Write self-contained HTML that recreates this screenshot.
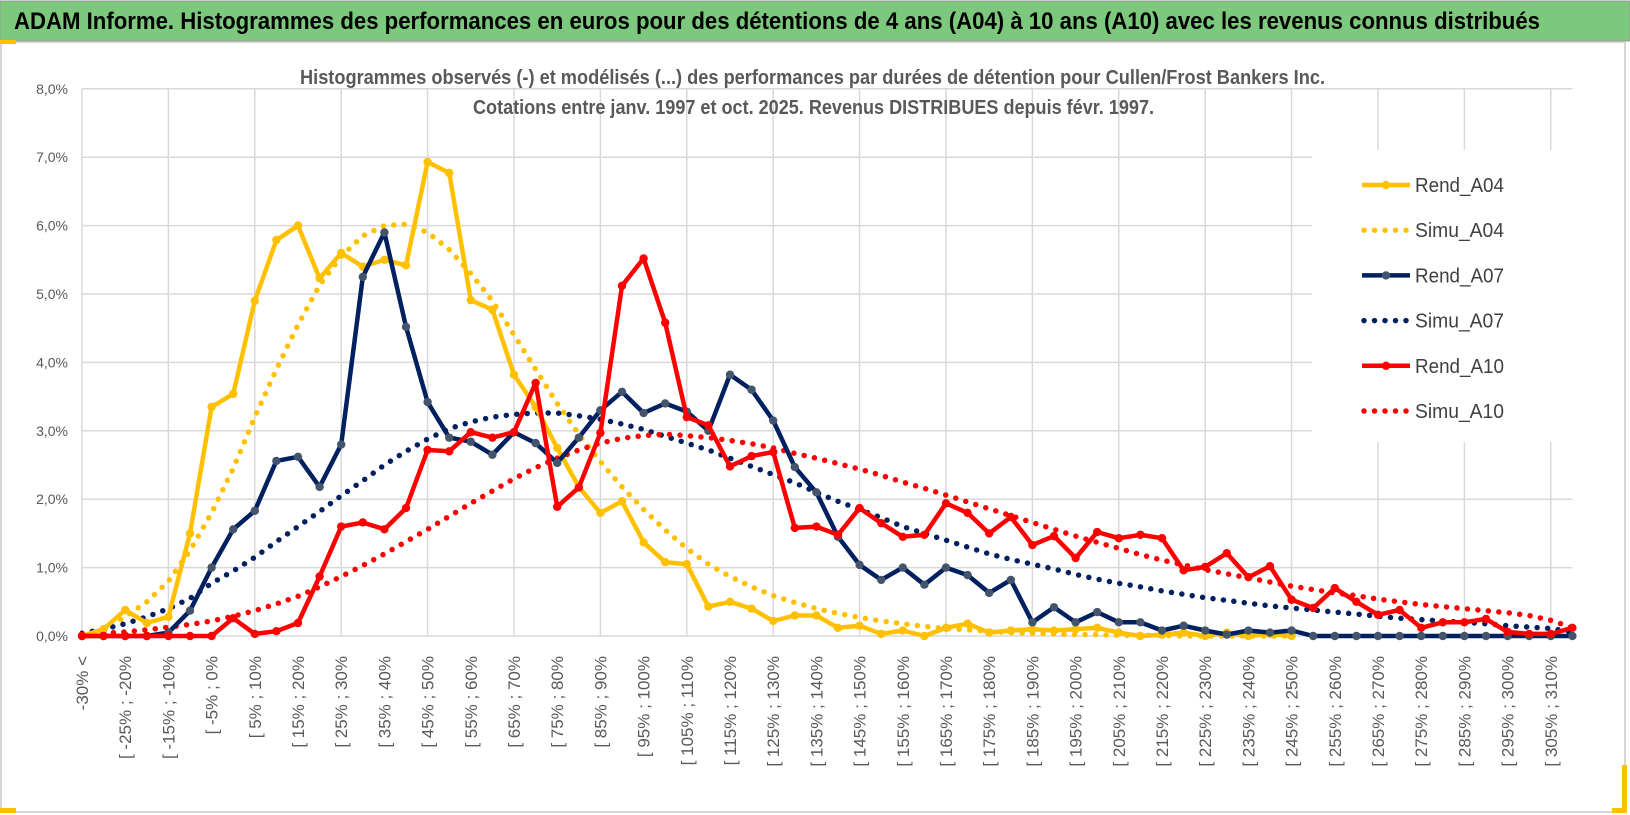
<!DOCTYPE html>
<html><head><meta charset="utf-8">
<style>
html,body{margin:0;padding:0;background:#fff;}
#wrap{position:relative;width:1630px;height:815px;overflow:hidden;font-family:"Liberation Sans",sans-serif;}
svg{position:absolute;left:0;top:0;}
</style></head>
<body>
<div id="wrap">
<svg id="chart" width="1630" height="815" viewBox="0 0 1630 815">
  <rect x="0" y="0" width="1630" height="815" fill="#ffffff"/>
  <rect x="0" y="1" width="1630" height="40" fill="#7cc87c" stroke="#9a9a9a" stroke-width="1"/>
  <text x="14" y="29" font-size="24" font-weight="bold" fill="#000" textLength="1526" lengthAdjust="spacingAndGlyphs">ADAM Informe. Histogrammes des performances en euros pour des détentions de 4 ans (A04) à 10 ans (A10) avec les revenus connus distribués</text>
  <rect x="1" y="42" width="1624" height="770" fill="none" stroke="#c8c8c8" stroke-width="1.5"/>
  <rect x="0" y="40" width="16" height="4" fill="#ffc000"/>
  <rect x="0" y="808" width="16" height="5" fill="#ffc000"/>
  <rect x="1622" y="765" width="5" height="48" fill="#ffc000"/>
  <rect x="1612" y="808" width="15" height="5" fill="#ffc000"/>
  <g id="grid"></g>
  <g id="legendbg"></g>
  <g id="series"></g>
  <g id="axes"></g>
  <text x="300" y="84" font-size="20" font-weight="bold" fill="#595959" textLength="1025" lengthAdjust="spacingAndGlyphs">Histogrammes observés (-) et modélisés (...) des performances par durées de détention pour Cullen/Frost Bankers Inc.</text>
  <text x="473" y="114" font-size="20" font-weight="bold" fill="#595959" textLength="681" lengthAdjust="spacingAndGlyphs">Cotations entre janv. 1997 et oct. 2025.  Revenus DISTRIBUES depuis févr. 1997.</text>
  <g id="legend"></g>
</svg>
</div>
<script>
const yTicks = [0,1,2,3,4,5,6,7,8];
const seriesNames = ["Rend_A04","Simu_A04","Rend_A07","Simu_A07","Rend_A10","Simu_A10"];
const rendA04 = [0,0.1,0.38,0.19,0.28,1.5,3.35,3.54,4.9,5.79,6.0,5.23,5.6,5.4,5.5,5.42,6.93,6.77,4.91,4.77,3.82,3.35,2.75,2.18,1.8,1.97,1.37,1.08,1.05,0.43,0.5,0.4,0.22,0.3,0.3,0.12,0.15,0.03,0.08,0.0,0.12,0.18,0.05,0.08,0.1,0.08,0.1,0.12,0.05,0.0,0.02,0.05,0.0,0.05,0.0,0.03,0.0,null,null,null,null,null,null,null,null,null,null,null,null,null];
const simuA04 = [0.02,0.1,0.28,0.5,0.8,1.25,1.8,2.45,3.2,3.9,4.55,5.13,5.55,5.85,6.0,6.02,5.9,5.65,5.3,4.9,4.4,3.9,3.4,2.95,2.55,2.18,1.85,1.55,1.28,1.05,0.87,0.72,0.59,0.49,0.4,0.33,0.27,0.22,0.18,0.14,0.11,0.09,0.07,0.05,0.04,0.03,0.02,0.02,0.01,0.01,0.01,0.0,0.0,0.0,0.0,0.0,0.0,null,null,null,null,null,null,null,null,null,null,null,null,null];
const rendA07 = [0,0,0,0,0.05,0.37,1.0,1.56,1.83,2.56,2.62,2.18,2.8,5.25,5.9,4.52,3.42,2.9,2.84,2.65,2.98,2.82,2.53,2.9,3.3,3.57,3.26,3.4,3.28,3.0,3.82,3.6,3.15,2.47,2.1,1.45,1.04,0.82,1.0,0.75,1.0,0.89,0.63,0.82,0.2,0.42,0.2,0.35,0.2,0.2,0.08,0.15,0.08,0.02,0.08,0.05,0.08,0,0,0,0,0,0,0,0,0,0,0,0,0];
const simuA07 = [0.04,0.1,0.18,0.28,0.4,0.55,0.77,0.95,1.15,1.38,1.6,1.82,2.05,2.27,2.5,2.7,2.88,3.03,3.13,3.2,3.24,3.26,3.26,3.22,3.17,3.1,3.02,2.92,2.82,2.72,2.6,2.48,2.36,2.24,2.1,1.97,1.85,1.73,1.6,1.5,1.4,1.3,1.2,1.12,1.05,0.98,0.9,0.83,0.77,0.72,0.66,0.61,0.56,0.52,0.48,0.44,0.41,0.38,0.35,0.32,0.29,0.26,0.24,0.22,0.2,0.18,0.15,0.13,0.11,0.06];
const rendA10 = [0,0,0,0,0,0,0,0.26,0.03,0.07,0.19,0.87,1.6,1.66,1.56,1.87,2.72,2.7,2.98,2.9,2.98,3.7,1.89,2.17,2.97,5.12,5.52,4.58,3.2,3.08,2.48,2.63,2.69,1.58,1.6,1.48,1.87,1.65,1.45,1.48,1.94,1.8,1.5,1.74,1.33,1.46,1.14,1.52,1.43,1.48,1.43,0.96,1.01,1.21,0.86,1.02,0.53,0.41,0.7,0.5,0.31,0.38,0.12,0.2,0.2,0.25,0.06,0.03,0.03,0.12];
const simuA10 = [0.02,0.04,0.06,0.09,0.13,0.17,0.22,0.29,0.37,0.47,0.58,0.72,0.87,1.03,1.2,1.38,1.56,1.75,1.94,2.12,2.3,2.46,2.6,2.72,2.82,2.89,2.93,2.95,2.93,2.9,2.86,2.81,2.75,2.67,2.6,2.52,2.44,2.35,2.25,2.16,2.06,1.96,1.86,1.76,1.66,1.56,1.46,1.37,1.28,1.19,1.11,1.04,0.97,0.91,0.85,0.79,0.73,0.68,0.63,0.59,0.54,0.5,0.46,0.43,0.4,0.37,0.34,0.3,0.23,0.12];
const categories = [];
categories.push("-30% <");
for (let k = 1; k < 70; k++) { const lo = -30 + 5*(k-1); categories.push("[ " + lo + "% ; " + (lo+5) + "%"); }

const NS = "http://www.w3.org/2000/svg";
const X0 = 82, X1 = 1572.4, Y0 = 636, PER = 68.4;
const n = categories.length;
function xs(i){ return X0 + i*(X1-X0)/(n-1); }
function ys(v){ return Y0 - v*PER; }
function mk(tag, attrs, parent){ const e = document.createElementNS(NS, tag); for (const k in attrs) e.setAttribute(k, attrs[k]); parent.appendChild(e); return e; }

const grid = document.getElementById("grid");
for (const t of yTicks) {
  const l = mk("line", {x1:X0, x2:X1, y1:ys(t), y2:ys(t), stroke:"#d9d9d9", "stroke-width":1.5}, grid);
  
  
}
for (let i = 0; i < n; i += 4) {
  const l = mk("line", {x1:xs(i), x2:xs(i), y1:ys(8), y2:Y0, stroke:"#d9d9d9", "stroke-width":1.5}, grid);
  
  
}
const lb = mk("rect", {x:1312, y:150, width:262, height:292, fill:"#fff"}, document.getElementById("legendbg"));



const axes = document.getElementById("axes");
for (const t of yTicks) {
  const tx = mk("text", {x:68, y:ys(t)+5, "text-anchor":"end", "font-size":14, fill:"#595959"}, axes);
  tx.textContent = t.toFixed(1).replace(".", ",") + "%";
  
  
}
for (let i = 0; i < n; i += 2) {
  const x = xs(i) + 6, y = 656;
  const tx = mk("text", {x:x, y:y, "text-anchor":"end", "font-size":17, fill:"#595959", transform:"rotate(-90 "+x+" "+y+")"}, axes);
  tx.textContent = categories[i];
  
  
}

const styles = [
  {data:rendA04, color:"#ffc000", dotted:false, marker:"#ffc000", name:"series-rend-a04"},
  {data:simuA04, color:"#ffc000", dotted:true, name:"series-simu-a04"},
  {data:rendA07, color:"#002060", dotted:false, marker:"#44546a", name:"series-rend-a07"},
  {data:simuA07, color:"#002060", dotted:true, name:"series-simu-a07"},
  {data:rendA10, color:"#ff0000", dotted:false, marker:"#ff0000", name:"series-rend-a10"},
  {data:simuA10, color:"#ff0000", dotted:true, name:"series-simu-a10"}
];
const order = [1,3,5,0,2,4];
const sg = document.getElementById("series");
for (const si of order) {
  const s = styles[si];
  const g = mk("g", {}, sg);
  
  
  let d = "", pen = false;
  s.data.forEach((v,i) => { if (v === null) { pen = false; return; } d += (pen ? "L" : "M") + xs(i).toFixed(1) + "," + ys(v).toFixed(1); pen = true; });
  const attrs = {d:d, fill:"none", stroke:s.color, "stroke-linejoin":"round"};
  if (s.dotted) { attrs["stroke-width"] = 5.5; attrs["stroke-dasharray"] = "0 10.5"; attrs["stroke-linecap"] = "round"; }
  else { attrs["stroke-width"] = 4.5; attrs["stroke-linecap"] = "round"; }
  const p = mk("path", attrs, g);
  
  
  if (!s.dotted) {
    s.data.forEach((v,i) => {
      if (v === null) return;
      const c = mk("circle", {cx:xs(i), cy:ys(v), r:4.2, fill:s.marker}, g);
      
      
    });
  }
}

const lg = document.getElementById("legend");
styles.forEach((s, k) => {
  const y = 185 + k*45.2;
  const g = mk("g", {}, lg);
  
  
  const attrs = {x1:1362, x2:1410, y1:y, y2:y, stroke:s.color};
  if (s.dotted) { attrs["stroke-width"] = 5.5; attrs["stroke-dasharray"] = "0 10.5"; attrs["stroke-linecap"] = "round"; attrs.x1 = 1364; attrs.x2 = 1408; }
  else { attrs["stroke-width"] = 4.5; }
  const l = mk("line", attrs, g);
  
  
  if (!s.dotted) {
    const c = mk("circle", {cx:1386, cy:y, r:4.2, fill:s.marker}, g);
    
    
  }
  const t = mk("text", {x:1415, y:y+7, "font-size":20, fill:"#404040", textLength:89, lengthAdjust:"spacingAndGlyphs"}, g);
  t.textContent = seriesNames[k];
  
  
});
</script>
</body></html>
